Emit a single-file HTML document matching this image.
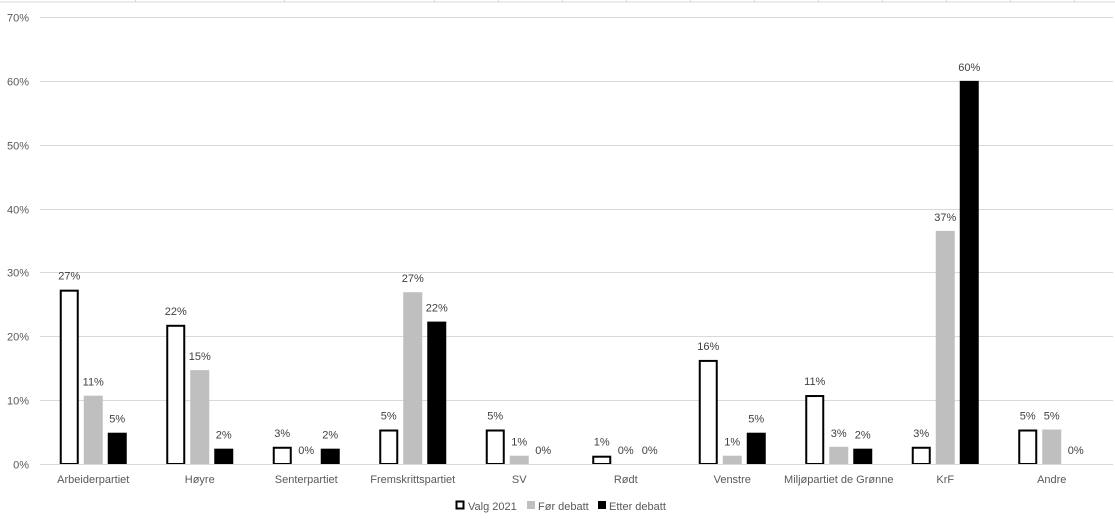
<!DOCTYPE html>
<html><head><meta charset="utf-8">
<style>
body{margin:0;background:#fff;}
svg{display:block;font-family:"Liberation Sans",sans-serif;}
</style></head>
<body>
<svg id="chart" width="1115" height="524" viewBox="0 0 1115 524">
<g id="sheet"></g>
<g id="grid"></g>
<g id="yaxis"></g>
<g id="bars"></g>
<g id="xaxis"></g>
<g font-size="11" fill="#595959">
 <rect x="456.5" y="501.5" width="7" height="7" fill="#fff" stroke="#000" stroke-width="2"/>
 <text x="468" y="510">Valg 2021</text>
 <rect x="527" y="501" width="8" height="8" fill="#bfbfbf"/>
 <text x="538" y="510">Før debatt</text>
 <rect x="598" y="501" width="8" height="8" fill="#000"/>
 <text x="609" y="510">Etter debatt</text>
</g>
</svg>
<script>
const categories=["Arbeiderpartiet","Høyre","Senterpartiet","Fremskrittspartiet","SV","Rødt","Venstre","Miljøpartiet de Grønne","KrF","Andre"];
const valg2021=[27.3,21.8,2.7,5.4,5.4,1.3,16.3,10.8,2.7,5.4];
const forDebatt=[10.7,14.7,0,26.9,1.3,0,1.3,2.7,36.5,5.4];
const etterDebatt=[4.9,2.4,2.4,22.3,0,0,4.9,2.4,60.0,0];
const yTicks=[0,10,20,30,40,50,60,70];
const seriesNames=["valg-2021","for-debatt","etter-debatt"];

const NS="http://www.w3.org/2000/svg";
const x0=40,x1=1105,yZero=464,yTop=17,yMax=70;
const band=(x1-x0)/categories.length;
function y(v){return yZero-(v/yMax)*(yZero-yTop);}
function cx(i){return x0+band*(i+0.5);}
function mk(tag,attrs,parent){const e=document.createElementNS(NS,tag);for(const k in attrs)e.setAttribute(k,attrs[k]);parent.appendChild(e);return e;}

const sheet=document.getElementById('sheet');
const sl=mk('line',{x1:0,x2:1115,y1:2,y2:2,stroke:'#d9d9d9','stroke-width':1},sheet);


[135,284,434,498,562,626,690,754,818,882,946,1010,1074].forEach(xx=>{
 const l=mk('line',{x1:xx+.5,x2:xx+.5,y1:0,y2:2,stroke:'#d9d9d9'},sheet);
 
 
});

const grid=document.getElementById('grid'),ya=document.getElementById('yaxis');
yTicks.forEach(t=>{
 const yy=Math.round(y(t))+.5;
 const l=mk('line',{x1:x0,x2:x1+8,y1:yy,y2:yy,stroke:'#d9d9d9','stroke-width':1},grid);
 
 
 const tx=mk('text',{x:29,y:yy+4,'text-anchor':'end','font-size':'11',fill:'#595959'},ya);
 tx.textContent=t+'%';
 
 
});

const bars=document.getElementById('bars');
const bw=19,off=24;
[valg2021,forDebatt,etterDebatt].forEach((arr,s)=>{
 arr.forEach((v,i)=>{
  const bx=cx(i)+(s-1)*off-bw/2;
  const top=y(v);
  let r;
  if(s===0){
   r=mk('rect',{x:bx+1,y:top+1,width:bw-2,height:Math.max(0,yZero-top-1),fill:'#fff',stroke:'#000','stroke-width':2},bars);
  }else{
   r=mk('rect',{x:bx,y:top,width:bw,height:yZero-top,fill:s===1?'#bfbfbf':'#000'},bars);
  }
  
  
  const t=mk('text',{x:bx+bw/2,y:top-10,'text-anchor':'middle','font-size':'11',fill:'#404040'},bars);
  t.textContent=Math.round(v)+'%';
  
  
 });
});

const xa=document.getElementById('xaxis');
const al=mk('line',{x1:x0,x2:x1+8,y1:yZero+.5,y2:yZero+.5,stroke:'#d9d9d9'},xa);


categories.forEach((c,i)=>{
 const t=mk('text',{x:cx(i),y:483,'text-anchor':'middle','font-size':'11',fill:'#595959'},xa);
 t.textContent=c;
 
 
});
</script>
</body></html>
